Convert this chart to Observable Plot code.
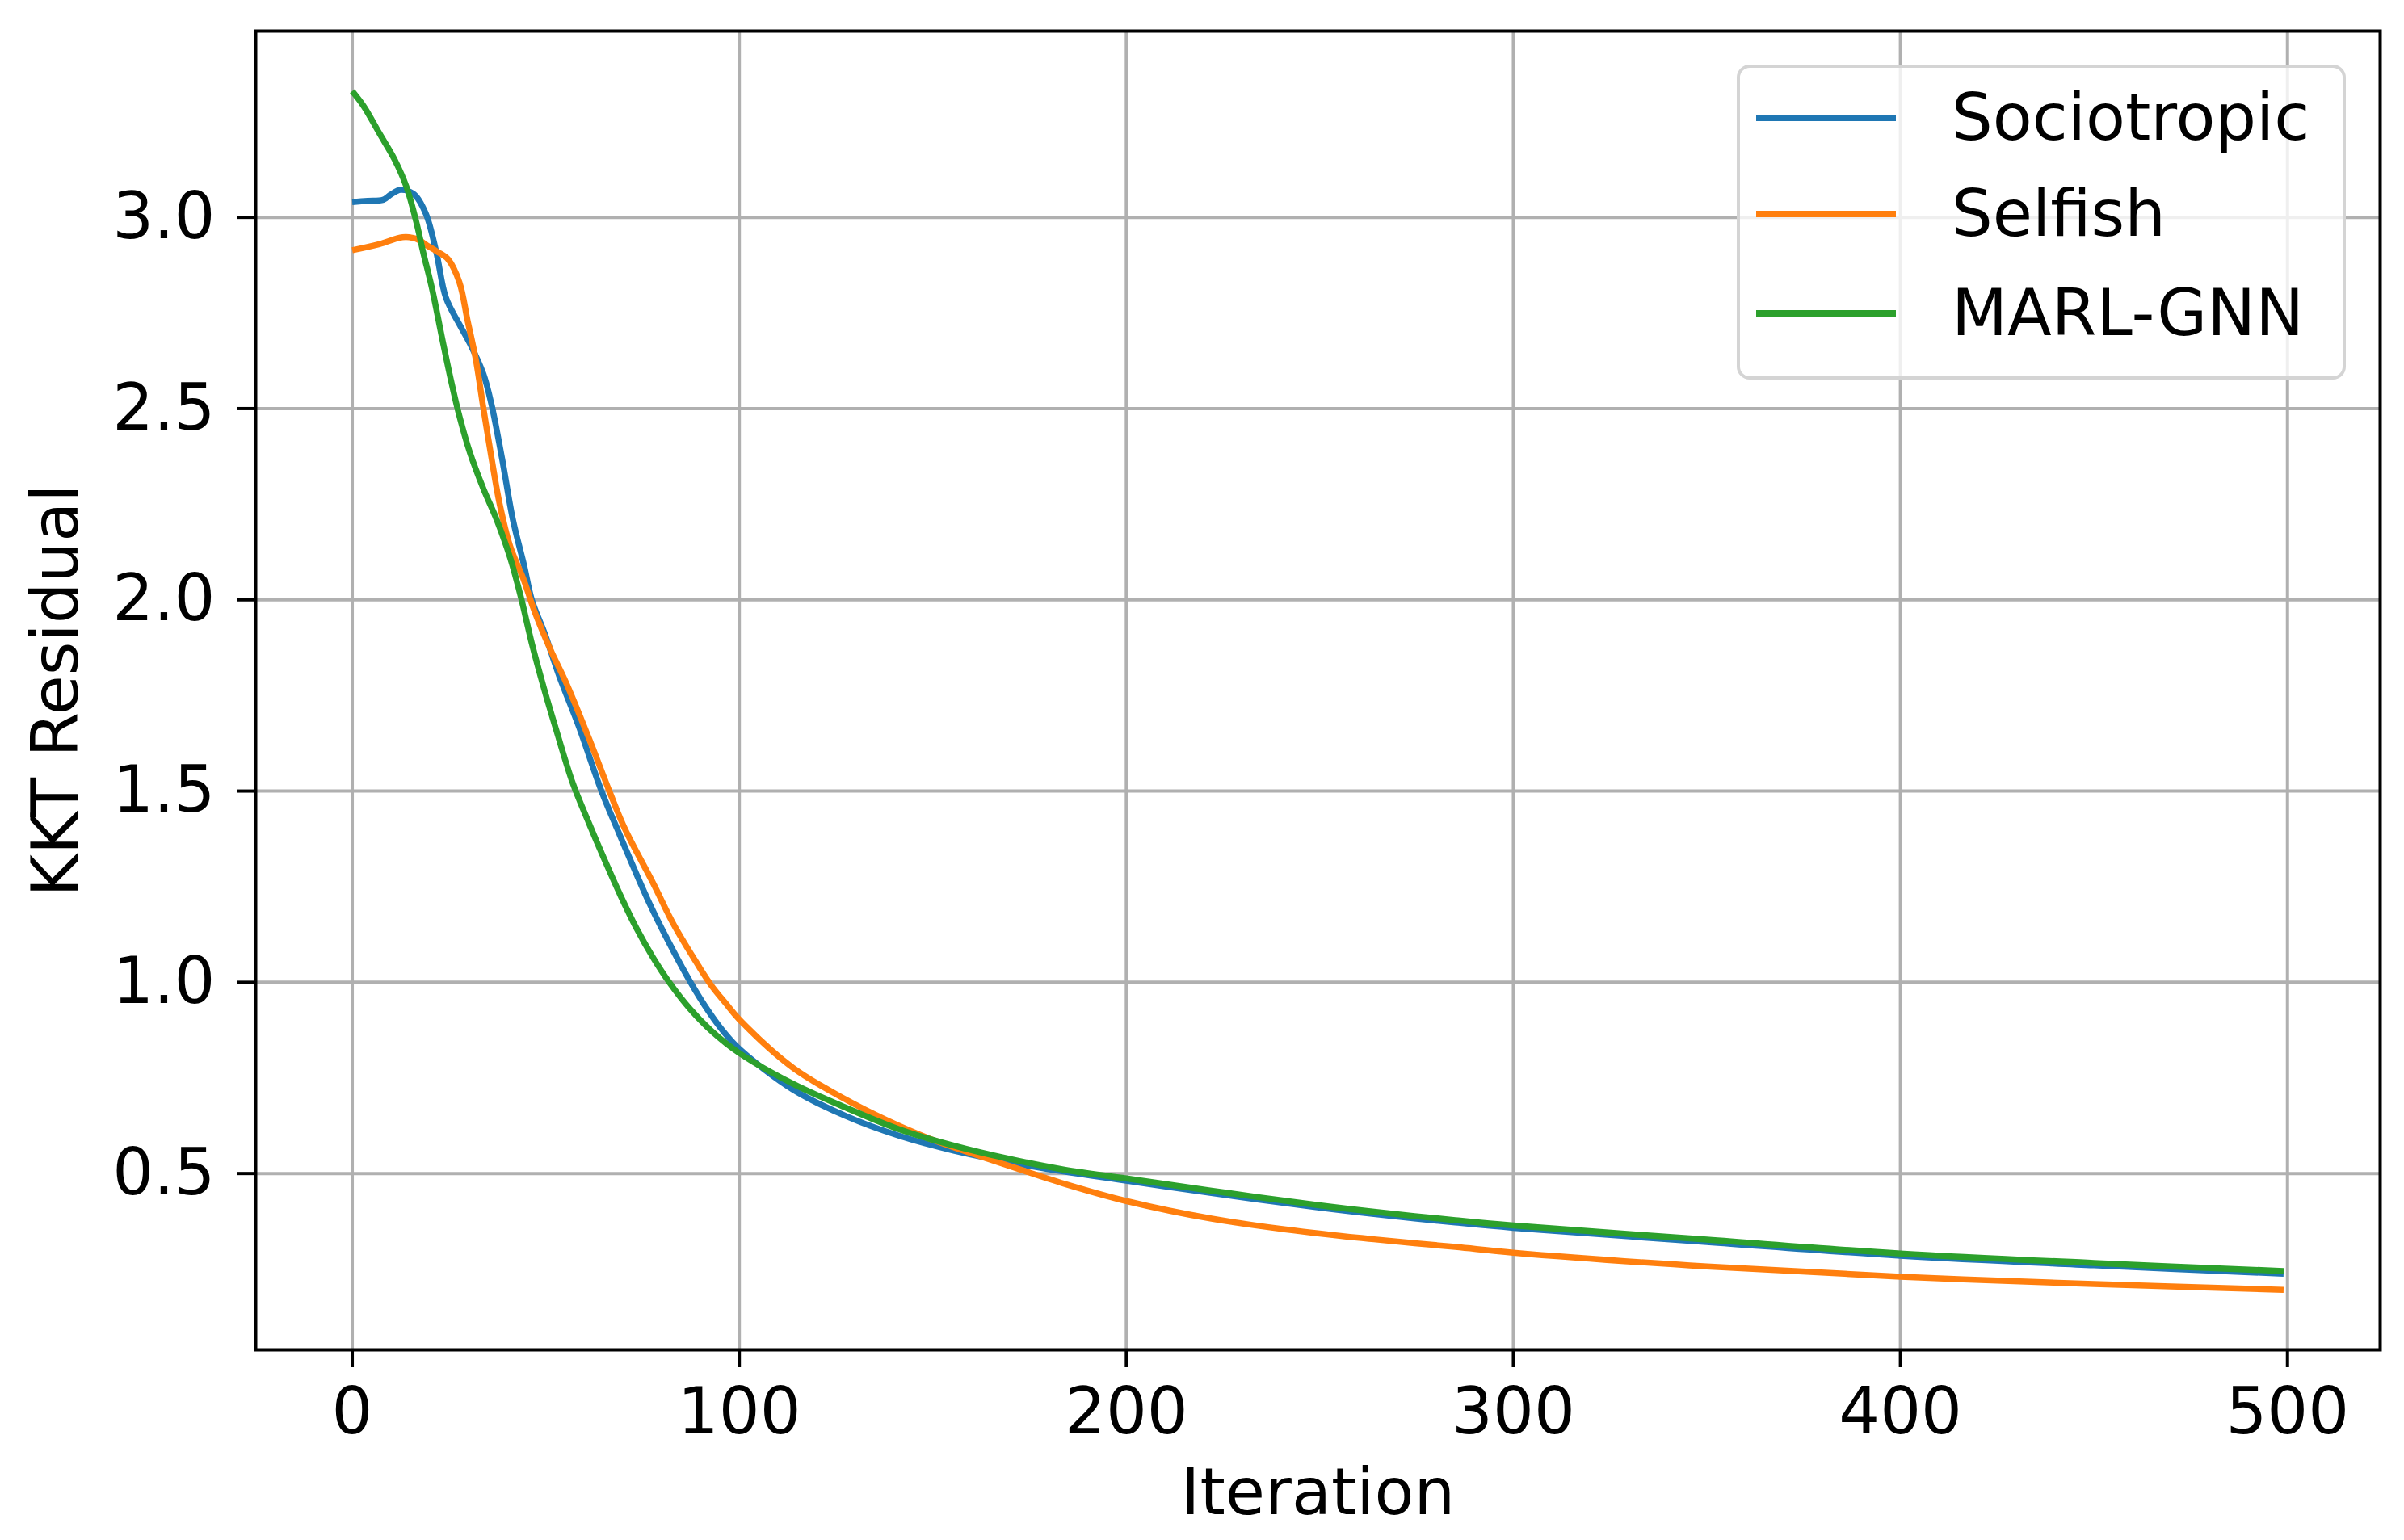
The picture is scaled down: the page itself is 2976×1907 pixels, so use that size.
<!DOCTYPE html>
<html>
<head>
<meta charset="utf-8">
<script src="https://cdn.jsdelivr.net/npm/d3@7"></script>
<script src="https://cdn.jsdelivr.net/npm/@observablehq/plot@0.6"></script>
<style>
  html, body { margin: 0; padding: 0; background: white; }
  #wrap { position: relative; width: 2976px; height: 1907px; }
  #legend {
    position: absolute; left: 2150px; top: 80px; width: 746px; height: 382px;
    border: 4px solid #d4d4d4; border-radius: 16px; background: rgba(255,255,255,0.8);
    font-family: "DejaVu Sans"; font-size: 80px; color: black;
  }
  .row { position: absolute; left: 0; height: 0; }
  .swatch { position: absolute; left: 20px; width: 173px; height: 8px; top: -4px; }
  .lab { position: absolute; left: 262px; top: -48px; white-space: nowrap; line-height: 96px; }
</style>
</head>
<body>
<div id="wrap"><div id="chart"></div><div id="legend"></div></div>
<script>
const seriesNames = ["Sociotropic", "Selfish", "MARL-GNN"];
const seriesColors = ["#1f77b4", "#ff7f0e", "#2ca02c"];

const socIter = [0, 4, 8, 10, 12.5, 16, 19, 21.7, 24.2, 27.7, 30.4, 33.9, 36, 38.7, 41.5, 44.4, 46.4, 49.8, 53.5, 58.5, 64.4, 68.5, 72.7, 76.9, 81, 87.4, 92, 96, 100, 113.8, 127.6, 141.5, 155.4, 176, 200, 222, 249, 264, 285, 300, 350, 400, 450, 499];
const socVal  = [3.04, 3.043, 3.046, 3.06, 3.072, 3.06, 3.01, 2.91, 2.79, 2.72, 2.67, 2.59, 2.51, 2.37, 2.21, 2.09, 2.00, 1.91, 1.80, 1.67, 1.50, 1.40, 1.30, 1.204, 1.12, 1.00, 0.925, 0.87, 0.826, 0.72, 0.65, 0.598, 0.56, 0.518, 0.481, 0.449, 0.412, 0.394, 0.372, 0.358, 0.321, 0.285, 0.260, 0.238];

const selIter = [0, 7, 13, 16.5, 19.4, 22, 24.8, 27.7, 29.8, 31.9, 33.9, 36, 38.1, 40.8, 44.4, 47.1, 51.2, 55.4, 61.7, 66.5, 70.5, 77.7, 83.1, 89.4, 92.9, 96.5, 100, 113.8, 127.6, 138, 148.5, 162.3, 172.7, 185, 200, 222, 249, 264, 285, 300, 350, 400, 450, 499];
const selVal  = [2.914, 2.93, 2.948, 2.944, 2.926, 2.91, 2.89, 2.83, 2.73, 2.63, 2.50, 2.37, 2.25, 2.14, 2.05, 1.97, 1.87, 1.78, 1.624, 1.498, 1.40, 1.26, 1.15, 1.044, 0.99, 0.945, 0.903, 0.777, 0.693, 0.64, 0.594, 0.545, 0.51, 0.47, 0.428, 0.382, 0.344, 0.328, 0.308, 0.293, 0.257, 0.230, 0.211, 0.196];

const marlIter = [0, 3, 7, 11, 14, 16.5, 18.3, 20.7, 23.1, 25.6, 27.7, 30.4, 33.9, 37.3, 40.8, 43.6, 46.4, 49.5, 52.7, 57, 61, 65.2, 69.4, 73.5, 77.7, 81.9, 87.3, 92.9, 100, 113.8, 127.6, 141.5, 155.4, 169.4, 184, 200, 222, 249, 264, 285, 300, 350, 400, 450, 499];
const marlVal  = [3.33, 3.29, 3.22, 3.15, 3.08, 2.99, 2.91, 2.81, 2.69, 2.57, 2.48, 2.385, 2.29, 2.21, 2.11, 2.006, 1.886, 1.77, 1.66, 1.52, 1.42, 1.32, 1.225, 1.14, 1.065, 1.0, 0.93, 0.872, 0.815, 0.735, 0.672, 0.615, 0.573, 0.539, 0.51, 0.487, 0.455, 0.418, 0.400, 0.378, 0.364, 0.327, 0.291, 0.266, 0.245];

const xTicks = [0, 100, 200, 300, 400, 500];
const yTicks = [0.5, 1.0, 1.5, 2.0, 2.5, 3.0];

const table = [];
[[socIter, socVal], [selIter, selVal], [marlIter, marlVal]].forEach(([xs, ys], i) => {
  xs.forEach((x, j) => table.push({series: seriesNames[i], iter: x, value: ys[j]}));
});

const chart = Plot.plot({
  width: 2976,
  height: 1907,
  marginLeft: 316,
  marginRight: 30,
  marginTop: 38,
  marginBottom: 236,
  style: {fontFamily: "DejaVu Sans", fontSize: "80px", background: "white", color: "black"},
  x: {domain: [-24.95, 523.95]},
  y: {domain: [0.039, 3.487]},
  color: {domain: seriesNames, range: seriesColors},
  marks: [
    Plot.gridX(xTicks, {stroke: "#b0b0b0", strokeOpacity: 1, strokeWidth: 4}),
    Plot.gridY(yTicks, {stroke: "#b0b0b0", strokeOpacity: 1, strokeWidth: 4}),
    Plot.line(table, {x: "iter", y: "value", z: "series", stroke: "series", strokeWidth: 7.5, curve: "catmull-rom", strokeLinejoin: "round", strokeLinecap: "butt"}),
    Plot.frame({stroke: "black", strokeWidth: 4}),
    Plot.axisX(xTicks, {tickSize: 22, tickPadding: 25, strokeWidth: 4, tickFormat: d3.format("d"), label: "Iteration", labelAnchor: "center", labelOffset: 203, labelArrow: "none", fontSize: 80}),
    Plot.axisY(yTicks, {tickSize: 22, tickPadding: 28, strokeWidth: 4, tickFormat: d3.format(".1f"), label: "KKT Residual", labelAnchor: "center", labelOffset: 277, labelArrow: "none", fontSize: 80})
  ]
});
document.getElementById("chart").appendChild(chart);

const legend = document.getElementById("legend");
const rowTops = [62, 181, 304];
seriesNames.forEach((name, i) => {
  const row = document.createElement("div");
  row.className = "row";
  row.style.top = rowTops[i] + "px";
  const sw = document.createElement("div");
  sw.className = "swatch";
  sw.style.background = seriesColors[i];
  const lab = document.createElement("div");
  lab.className = "lab";
  lab.textContent = name;
  row.appendChild(sw);
  row.appendChild(lab);
  legend.appendChild(row);
});
</script>
</body>
</html>
